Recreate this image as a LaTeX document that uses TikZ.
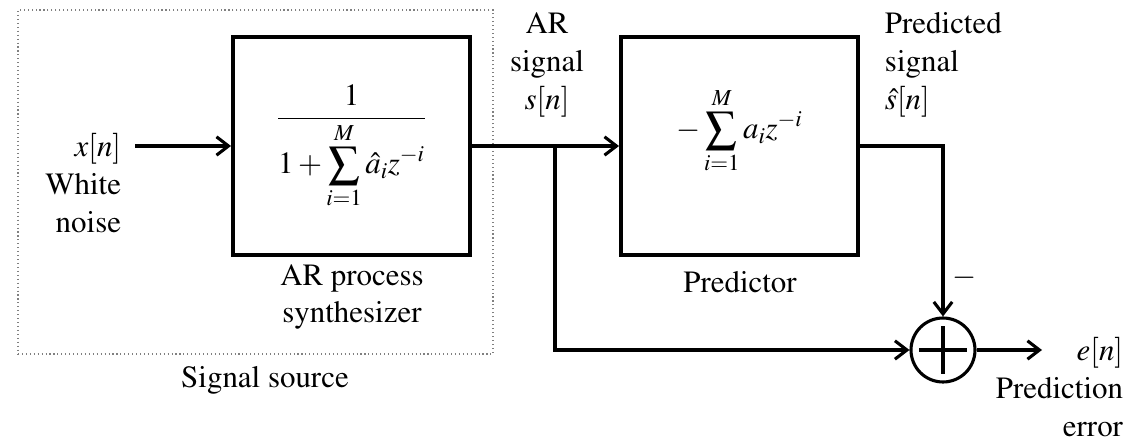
\documentclass[tikz,border=0pt]{standalone}
\usepackage{amsmath}
\usepackage[OT1]{fontenc}
\usepackage{mathptmx}
\usepackage{tikz}
\usetikzlibrary{arrows.meta}
\pgfdeclarelayer{nodelayer}
\pgfdeclarelayer{edgelayer}
\pgfsetlayers{nodelayer, edgelayer, main}

\begin{document}
\begin{tikzpicture} [font=\rmfamily\fontsize{22}{27}\selectfont,
    block/.style={draw, line width=2.8pt, minimum width=5.925cm, minimum height=5.45cm},
    sig/.style={line width=2.2pt},
    arr/.style={sig, -{Straight Barb[length=3mm,width=4.6mm]}}]
    \useasboundingbox (0,0) rectangle (28.4,11.025);
	\begin{pgfonlayer}{nodelayer}
        \node[draw=gray, dotted, line width=0.8pt, minimum width=11.875cm, minimum height=8.6cm] (0) at (6.3875,6.475) {};
        \node[block] (1) at (8.7875,7.375) {};
        \node[] (1a) at (8.7875,7.35) {$\displaystyle\frac{1}{\displaystyle 1+\sum_{i=1}^{M}\hat{a}_i z^{-i}}$};
        \node[block] (2) at (18.4875,7.375) {};
        \node[] (2a) at (18.4875,7.75) {$\displaystyle -\sum_{i=1}^{M} a_i z^{-i}$};
        \node[circle, draw, line width=2.2pt, minimum size=1.6cm, inner sep=0pt] (5) at (23.575,2.275) {};
        \coordinate (6) at (3.375,7.375);
        \coordinate (7) at (13.875,7.375);
        \coordinate (8) at (26.05,2.275);
        \node[anchor=east, align=right] (9) at (3.15,6.45) {$x[n]$\\White\\noise};
        \node[align=center] (10) at (8.8,3.6) {AR process\\synthesizer};
        \node[] (11) at (6.625,1.525) {Signal source};
        \node[align=center] (12) at (13.675,9.4) {AR\\signal\\$s[n]$};
        \node[] (13) at (18.5,3.975) {Predictor};
        \node[anchor=west, align=left] (14) at (22.0,9.4) {Predicted\\signal\\$\hat{s}[n]$};
        \node[] (15) at (24.125,4.075) {$\boldsymbol{-}$};
        \node[anchor=east, align=right] (16) at (28.2,1.35) {$e[n]$\\Prediction\\error};
	\end{pgfonlayer}
	\begin{pgfonlayer}{edgelayer}
        \draw[arr] (6) -- (1);
        \draw[sig] (1.east) -- (7);
        \draw[arr] (7) -- (2);
        \draw[arr] (7) |- (5);
        \draw[arr] (2.east) -| (5);
        \draw[arr] (5) -- (8);
        \draw[sig] (5.center) +(-0.6,0) -- +(0.6,0);
        \draw[sig] (5.center) +(0,-0.6) -- +(0,0.6);
	\end{pgfonlayer}
    \end{tikzpicture}
\end{document}
